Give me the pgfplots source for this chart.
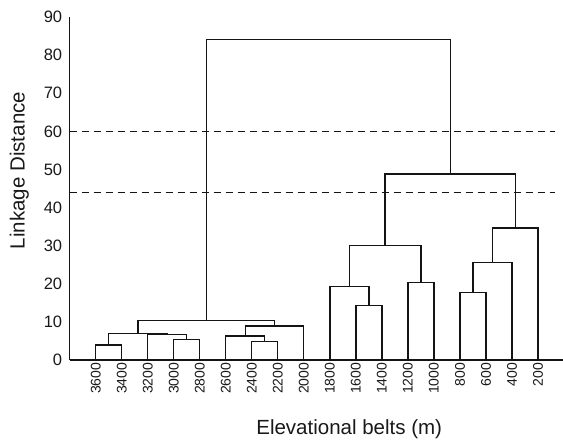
\documentclass[border=0pt]{standalone}
\usepackage{fontspec}
\setmainfont{Liberation Sans}
\usepackage{pgfplots}
\pgfplotsset{compat=1.18}

\tikzset{
  link/.style={black!92, line width=1.3pt},
  cut/.style={black!92, line width=1.3pt, dash pattern=on 7pt off 5pt},
}

\begin{document}
\begin{tikzpicture}
\begin{axis}[
  scale only axis,
  width=493pt, height=343pt,
  xmin=0, xmax=18.95,
  ymin=0, ymax=90,
  axis x line=bottom, axis y line=left,
  axis line style={-, line width=1.3pt, black!92},
  major tick length=0pt,
  ytick={0,10,...,90},
  xtick={1,...,18},
  xticklabels={3600,3400,3200,3000,2800,2600,2400,2200,2000,1800,1600,1400,1200,1000,800,600,400,200},
  /pgf/number format/assume math mode=true,
  yticklabel style={font=\fontsize{16.5}{16.5}\selectfont, text=black!90, xshift=-4pt},
  xticklabel style={font=\fontsize{14}{14}\selectfont, rotate=90, anchor=east, text=black!90, inner sep=2.5pt},
  ylabel={Linkage Distance},
  xlabel={Elevational belts (m)},
  label style={font=\fontsize{20.5}{20.5}\selectfont, text=black!90},
  xlabel style={xshift=33pt, yshift=-20pt},
  ylabel style={xshift=18pt, yshift=8pt},
  clip=false,
]
\coordinate (O) at (rel axis cs:0,0);

% cut-off levels
\addplot[cut] coordinates {(0,60) (18.67,60)};
\addplot[cut] coordinates {(0,44) (18.67,44)};

% high-elevation cluster
\addplot[link] coordinates {(1,0) (1,3.9) (2,3.9) (2,0)};
\addplot[link] coordinates {(4,0) (4,5.4) (5,5.4) (5,0)};
\addplot[link] coordinates {(3,0) (3,6.6) (4.5,6.6) (4.5,5.4)};
\addplot[link] coordinates {(1.5,3.9) (1.5,6.9) (3.75,6.9) (3.75,6.6)};
\addplot[link] coordinates {(7,0) (7,4.8) (8,4.8) (8,0)};
\addplot[link] coordinates {(6,0) (6,6.3) (7.5,6.3) (7.5,4.8)};
\addplot[link] coordinates {(6.75,6.3) (6.75,8.9) (9,8.9) (9,0)};
\addplot[link] coordinates {(2.625,6.9) (2.625,10.4) (7.875,10.4) (7.875,8.9)};

% low-elevation cluster
\addplot[link] coordinates {(11,0) (11,14.3) (12,14.3) (12,0)};
\addplot[link] coordinates {(10,0) (10,19.3) (11.5,19.3) (11.5,14.3)};
\addplot[link] coordinates {(13,0) (13,20.4) (14,20.4) (14,0)};
\addplot[link] coordinates {(10.75,19.3) (10.75,30.1) (13.5,30.1) (13.5,20.4)};
\addplot[link] coordinates {(15,0) (15,17.8) (16,17.8) (16,0)};
\addplot[link] coordinates {(15.5,17.8) (15.5,25.6) (17,25.6) (17,0)};
\addplot[link] coordinates {(16.25,25.6) (16.25,34.6) (18,34.6) (18,0)};
\addplot[link] coordinates {(12.125,30.1) (12.125,48.8) (17.125,48.8) (17.125,34.6)};

% root
\addplot[link] coordinates {(5.25,10.4) (5.25,84.1) (14.625,84.1) (14.625,48.8)};
\end{axis}
\pgfresetboundingbox
\path (O) ++(-69.7pt,-81pt) rectangle ++(563pt,441pt);
\end{tikzpicture}
\end{document}
